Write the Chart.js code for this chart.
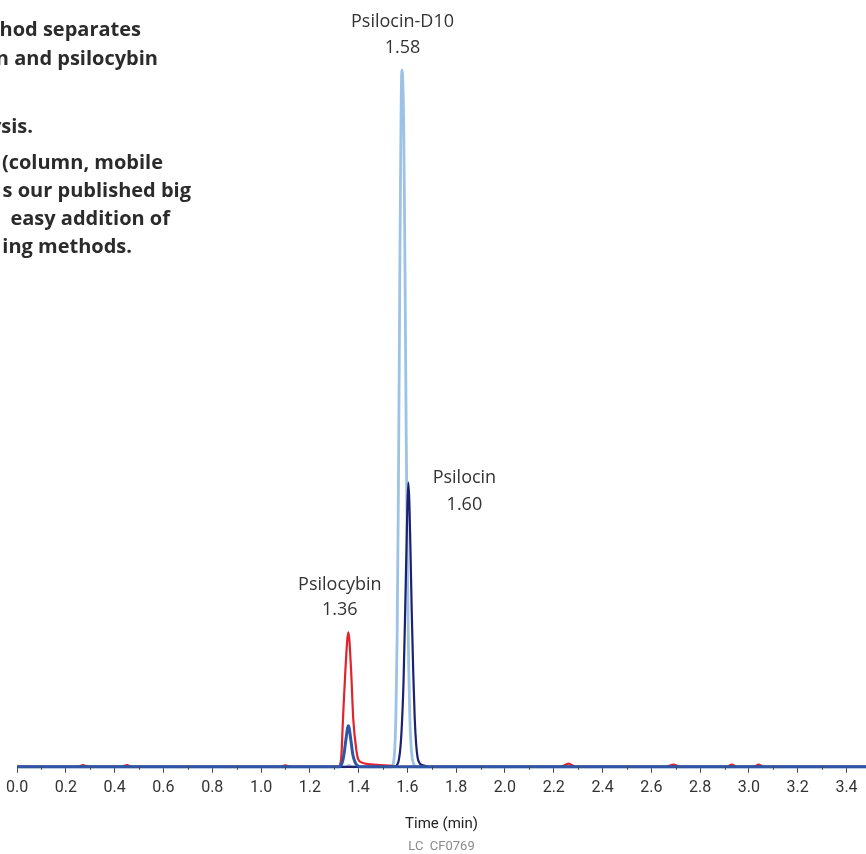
<!DOCTYPE html>
<html>
<head>
<meta charset="utf-8">
<title>LC CF0769</title>
<script src="https://cdn.jsdelivr.net/npm/chart.js@4.4.1/dist/chart.umd.min.js"></script>
<style>
    html, body { margin: 0; padding: 0; background: #fff; }
    #wrap { width: 866px; height: 854px; position: relative; }
</style>
</head>
<body>
<div id="wrap"><canvas id="chromChart"></canvas></div>
<script>
// x axis (retention time, min)
var xTicks = [0.0, 0.2, 0.4, 0.6, 0.8, 1.0, 1.2, 1.4, 1.6, 1.8, 2.0, 2.2, 2.4, 2.6, 2.8, 3.0, 3.2, 3.4];
var timeMin = 0.0;
var timeMax = 3.48;

// blue trace (psilocybin, second channel) - runs along the whole baseline
var blueTime  = [0.00, 0.50, 1.00, 1.30, 1.320, 1.332, 1.340, 1.348, 1.358, 1.368, 1.376, 1.386, 1.398, 1.410, 1.60, 2.00, 2.50, 3.00, 3.48];
var blueValue = [0, 0, 0, 0, 0, 0.5, 1.8, 3.9, 5.9, 3.9, 1.8, 0.6, 0.1, 0, 0, 0, 0, 0, 0];

// red trace (psilocybin)
var redTime  = [0.00, 0.25, 0.27, 0.29, 0.43, 0.45, 0.47, 1.08, 1.10, 1.12, 1.30, 1.316, 1.328, 1.336, 1.346, 1.358, 1.369, 1.378, 1.392, 1.398, 1.414, 1.447, 1.490, 1.537, 1.56, 2.23, 2.26, 2.29, 2.66, 2.69, 2.72, 2.91, 2.93, 2.95, 3.02, 3.04, 3.06, 3.48];
var redValue = [0, 0, 0.25, 0, 0, 0.25, 0, 0, 0.2, 0, 0, 0, 1.0, 6.9, 14.0, 19.3, 14.0, 6.9, 2.1, 1.1, 0.6, 0.35, 0.25, 0.15, 0, 0, 0.45, 0, 0, 0.3, 0, 0, 0.3, 0, 0, 0.3, 0, 0];

// light blue trace (psilocin-D10)
var d10Time  = [0.00, 1.00, 1.35, 1.36, 1.37, 1.535, 1.543, 1.548, 1.553, 1.558, 1.563, 1.568, 1.573, 1.577, 1.581, 1.585, 1.590, 1.595, 1.600, 1.605, 1.610, 1.615, 1.620, 1.625, 1.635, 2.00, 3.48];
var d10Value = [0, 0, 0, 0.2, 0, 0, 0.6, 2.4, 7.6, 19, 39, 66, 90, 100, 98.5, 92, 72, 48, 29, 15, 7, 3, 1.2, 0.5, 0, 0, 0];

// navy trace (psilocin)
var navyTime  = [0.00, 1.00, 1.550, 1.558, 1.565, 1.572, 1.578, 1.584, 1.590, 1.596, 1.600, 1.604, 1.608, 1.612, 1.618, 1.624, 1.630, 1.636, 1.642, 1.650, 1.660, 1.672, 1.690, 2.00, 3.48];
var navyValue = [0, 0, 0, 0.3, 1, 3, 6.5, 12, 21, 31, 37.5, 40.8, 38, 32, 22, 13.5, 7, 3.2, 1.3, 0.5, 0.25, 0.15, 0, 0, 0];

// peak labels
var peakNames = ['Psilocybin', 'Psilocin-D10', 'Psilocin'];
var peakTimes = ['1.36', '1.58', '1.60'];
var peakApex  = [19.3, 100, 40.8];

// text block cut off at the left edge of the figure
var sideText = ['hod separates', 'n and psilocybin', 'ysis.', '(column, mobile', 's our published big', 'easy addition of', 'ing methods.'];

function toPoints(times, values) {
    return times.map(function (t, i) { return { x: t, y: values[i] }; });
}

// label offsets (px) from the peak apex
var labelStyle = [
    { dx: -9, dy1: -47, dy2: -22 },
    { dx: 0,  dy1: -48, dy2: -22 },
    { dx: 57, dy1: -5,  dy2: 22 }
];
// right edge and vertical centre of each side text line
var sideRight = [141, 158, 33, 163, 191, 170, 132];
var sideY     = [30, 59, 127, 163, 191, 219, 247];

var extrasPlugin = {
    id: 'extras',
    afterDraw: function (chart) {
        var ctx = chart.ctx;
        var xs = chart.scales.x;
        var ys = chart.scales.y;
        var area = chart.chartArea;
        ctx.save();

        // minor ticks halfway between the labelled ones
        ctx.strokeStyle = '#444';
        ctx.lineWidth = 1;
        for (var i = 0; i < xTicks.length; i++) {
            var m = xTicks[i] + 0.1;
            if (m > timeMax) continue;
            var px = Math.round(xs.getPixelForValue(m)) + 0.5;
            ctx.beginPath();
            ctx.moveTo(px, area.bottom);
            ctx.lineTo(px, area.bottom + 3);
            ctx.stroke();
        }

        // peak annotations
        ctx.fillStyle = '#333';
        ctx.font = '18px "Open Sans"';
        ctx.textAlign = 'center';
        ctx.textBaseline = 'middle';
        for (var k = 0; k < peakNames.length; k++) {
            var cx = xs.getPixelForValue(parseFloat(peakTimes[k])) + labelStyle[k].dx;
            var cy = ys.getPixelForValue(peakApex[k]);
            ctx.fillText(peakNames[k], cx, cy + labelStyle[k].dy1);
            ctx.fillText(peakTimes[k], cx, cy + labelStyle[k].dy2);
        }

        // figure code under the axis title
        ctx.fillStyle = '#8a8a8a';
        ctx.font = '13px Roboto';
        ctx.fillText('LC  CF0769', (area.left + area.right) / 2, 847);

        // bold side text
        ctx.fillStyle = '#2b2b2b';
        ctx.font = 'bold 20px "Open Sans"';
        ctx.textAlign = 'right';
        for (var j = 0; j < sideText.length; j++) {
            ctx.fillText(sideText[j], sideRight[j], sideY[j]);
        }
        ctx.restore();
    }
};

var ctx = document.getElementById('chromChart').getContext('2d');
var chromChart = new Chart(ctx, {
    type: 'line',
    data: {
        datasets: [
            { label: 'Psilocybin (2)', data: toPoints(blueTime, blueValue), borderColor: '#2f55a5', borderWidth: 3 },
            { label: 'Psilocin', data: toPoints(navyTime, navyValue), borderColor: '#1c2270', borderWidth: 2.2 },
            { label: 'Psilocybin', data: toPoints(redTime, redValue), borderColor: '#e3232b', borderWidth: 2.2 },
            { label: 'Psilocin-D10', data: toPoints(d10Time, d10Value), borderColor: '#9cc3e6', borderWidth: 2.8 }
        ]
    },
    options: {
        responsive: true,
        maintainAspectRatio: false,
        animation: false,
        devicePixelRatio: 1,
        elements: {
            point: { radius: 0 },
            line: { cubicInterpolationMode: 'monotone', fill: false }
        },
        datasets: { line: { clip: false } },
        layout: { padding: { top: 70, left: 17, right: 0, bottom: 17 } },
        plugins: {
            legend: { display: false },
            tooltip: { enabled: false },
            title: { display: false }
        },
        scales: {
            x: {
                type: 'linear',
                min: timeMin,
                max: timeMax,
                afterBuildTicks: function (scale) {
                    scale.ticks = xTicks.map(function (v) { return { value: v }; });
                },
                border: { display: true, color: '#444', width: 1 },
                grid: { display: true, drawOnChartArea: false, drawTicks: true, tickLength: 6, color: '#444' },
                ticks: {
                    autoSkip: false,
                    maxRotation: 0,
                    padding: 6,
                    color: '#333',
                    font: { family: 'Roboto', size: 16 },
                    callback: function (v) { return v.toFixed(1); }
                },
                title: {
                    display: true,
                    text: 'Time (min)',
                    color: '#222',
                    font: { family: 'Roboto', size: 15 },
                    padding: { top: 11, bottom: 4 }
                }
            },
            y: {
                display: false,
                min: 0,
                max: 100
            }
        }
    },
    plugins: [extrasPlugin]
});
</script>
</body>
</html>
